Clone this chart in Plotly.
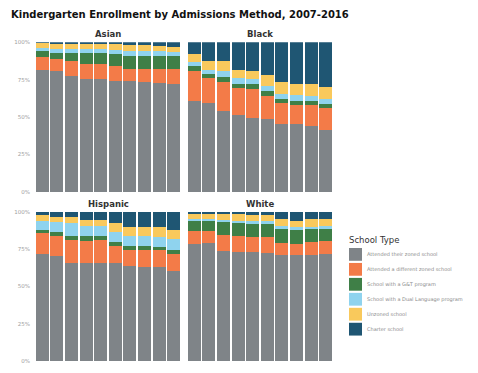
import plotly.graph_objects as go

W, H = 478, 373

years = list(range(2007, 2017))
groups = ["Asian", "Black", "Hispanic", "White"]
school_types = [
    "Attended their zoned school",
    "Attended a different zoned school",
    "School with a G&T program",
    "School with a Dual Language program",
    "Unzoned school",
    "Charter school",
]
colors = ["#7f8488", "#f37b48", "#3f7f47", "#8fd3ee", "#f9c95c", "#1f5673"]
y_tickvals = [0, 25, 50, 75, 100]
y_ticktext = ["0%", "25%", "50%", "75%", "100%"]

# Asian
asian_zoned = [81.5, 80.7, 77.4, 75.2, 75.5, 74.1, 74.1, 73.7, 72.8, 71.9]
asian_other = [8.7, 8.1, 9.9, 10.3, 10.0, 9.9, 8.4, 8.8, 9.7, 10.6]
asian_gt = [4.0, 4.0, 5.5, 7.3, 7.3, 8.1, 8.7, 8.7, 8.1, 8.1]
asian_dl = [2.2, 2.6, 2.6, 2.6, 2.6, 2.8, 3.1, 3.1, 3.3, 2.8]
asian_unzoned = [3.3, 3.9, 3.9, 3.3, 3.3, 3.8, 3.9, 3.9, 3.9, 3.7]
asian_charter = [0.3, 0.7, 0.7, 1.3, 1.3, 1.3, 1.8, 1.8, 2.2, 2.9]

# Black
black_zoned = [60.5, 59.2, 53.9, 51.1, 49.5, 48.9, 45.6, 45.2, 43.9, 41.3]
black_other = [20.6, 16.7, 19.8, 18.2, 19.1, 15.4, 13.6, 13.2, 14.2, 14.8]
black_gt = [2.9, 3.0, 3.1, 3.1, 3.3, 3.3, 2.8, 2.6, 2.9, 2.7]
black_dl = [2.8, 2.9, 3.9, 3.5, 3.3, 3.3, 3.3, 3.9, 3.3, 3.2]
black_unzoned = [5.3, 5.9, 6.6, 5.9, 5.9, 7.6, 8.4, 7.0, 8.1, 8.2]
black_charter = [7.9, 12.3, 12.7, 18.2, 18.9, 21.5, 26.3, 28.1, 27.6, 29.8]

# Hispanic
hispanic_zoned = [71.5, 70.2, 65.8, 65.8, 65.8, 65.3, 63.6, 63.2, 62.7, 60.5]
hispanic_other = [14.0, 13.8, 15.3, 14.5, 14.9, 11.5, 10.5, 10.9, 11.4, 11.4]
hispanic_gt = [2.2, 2.2, 2.9, 3.1, 3.3, 2.8, 2.7, 2.6, 2.2, 2.6]
hispanic_dl = [6.2, 6.6, 8.1, 7.2, 6.6, 6.6, 7.2, 7.3, 7.0, 7.3]
hispanic_unzoned = [3.9, 3.7, 4.0, 3.7, 3.7, 5.9, 5.9, 5.9, 6.6, 5.9]
hispanic_charter = [2.2, 3.5, 3.9, 5.7, 5.7, 7.9, 10.1, 10.1, 10.1, 12.3]

# White
white_zoned = [78.5, 78.9, 73.7, 73.0, 73.0, 72.6, 70.9, 70.9, 70.9, 71.5]
white_other = [8.8, 8.4, 10.9, 11.0, 9.9, 10.3, 8.0, 7.6, 8.7, 8.8]
white_gt = [6.1, 6.1, 8.2, 8.1, 8.8, 8.8, 9.5, 9.2, 8.8, 8.1]
white_dl = [1.5, 1.5, 1.5, 1.8, 1.7, 1.7, 2.2, 1.8, 1.5, 2.2]
white_unzoned = [3.8, 3.8, 3.9, 4.3, 4.4, 4.4, 4.3, 4.4, 5.0, 4.3]
white_charter = [1.3, 1.3, 1.8, 1.8, 2.2, 2.2, 5.1, 6.1, 5.1, 5.1]

series = {
    "Asian": [asian_zoned, asian_other, asian_gt, asian_dl, asian_unzoned, asian_charter],
    "Black": [black_zoned, black_other, black_gt, black_dl, black_unzoned, black_charter],
    "Hispanic": [hispanic_zoned, hispanic_other, hispanic_gt, hispanic_dl, hispanic_unzoned, hispanic_charter],
    "White": [white_zoned, white_other, white_gt, white_dl, white_unzoned, white_charter],
}

# panel pixel boxes (left, right, top, bottom)
boxes = {
    "Asian": (35, 181, 40, 192),
    "Black": (187, 333, 40, 192),
    "Hispanic": (35, 181, 212, 364),
    "White": (187, 333, 212, 364),
}

FONT = "DejaVu Sans"
fig = go.Figure()
layout = {}
annotations = []
shapes = []

for i, g in enumerate(groups):
    n = "" if i == 0 else str(i + 1)
    l, r, t, b = boxes[g]
    layout["xaxis" + n] = dict(
        domain=[l / W, r / W], range=[2006.5, 2016.5], showticklabels=False,
        showgrid=False, zeroline=False, showline=False, ticks="",
        anchor="y" + n, fixedrange=True,
    )
    layout["yaxis" + n] = dict(
        domain=[1 - b / H, 1 - t / H], range=[0, 100], tickvals=y_tickvals,
        ticktext=y_ticktext, showticklabels=(g in ("Asian", "Hispanic")),
        tickfont=dict(size=5.5, color="#a0a0a0", family=FONT),
        showgrid=False, zeroline=False, showline=False, ticks="",
        ticklabelstandoff=4, anchor="x" + n, fixedrange=True,
    )
    for k, st in enumerate(school_types):
        fig.add_trace(go.Bar(
            x=years, y=series[g][k], name=st, marker=dict(color=colors[k], line=dict(width=0)),
            xaxis="x" + n, yaxis="y" + n, showlegend=False,
        ))
    annotations.append(dict(
        x=(l + r) / 2 / W, y=1 - (t - 8) / H, xref="paper", yref="paper",
        text="<b>" + g + "</b>", showarrow=False, xanchor="center", yanchor="middle",
        font=dict(size=8.5, color="#333333", family=FONT),
    ))

annotations.append(dict(
    x=9 / W, y=1 - 12 / H, xref="paper", yref="paper",
    text="<b>Kindergarten Enrollment by Admissions Method, 2007-2016</b>",
    showarrow=False, xanchor="left", yanchor="middle",
    font=dict(size=10, color="#111111", family=FONT),
))

# legend
annotations.append(dict(
    x=347 / W, y=1 - 241 / H, xref="paper", yref="paper", text="School Type",
    showarrow=False, xanchor="left", yanchor="middle",
    font=dict(size=8.5, color="#333333", family=FONT),
))
for k, st in enumerate(school_types):
    cy = 255.5 + k * 15.2
    shapes.append(dict(
        type="rect", xref="paper", yref="paper",
        x0=349 / W, x1=362 / W, y0=1 - (cy + 6.5) / H, y1=1 - (cy - 6.5) / H,
        fillcolor=colors[k], line=dict(width=0),
    ))
    annotations.append(dict(
        x=365 / W, y=1 - cy / H, xref="paper", yref="paper", text=st,
        showarrow=False, xanchor="left", yanchor="middle",
        font=dict(size=5, color="#8a8a8a", family=FONT),
    ))

fig.update_layout(
    **layout,
    width=W, height=H, margin=dict(l=0, r=0, t=0, b=0),
    paper_bgcolor="white", plot_bgcolor="white",
    barmode="stack", barnorm="percent", bargap=0.1,
    showlegend=False, annotations=annotations, shapes=shapes,
    font=dict(family=FONT),
)

fig.write_html(
    "out.html",
    config={"displayModeBar": False},
    post_script="document.body.style.margin='0';",
)
